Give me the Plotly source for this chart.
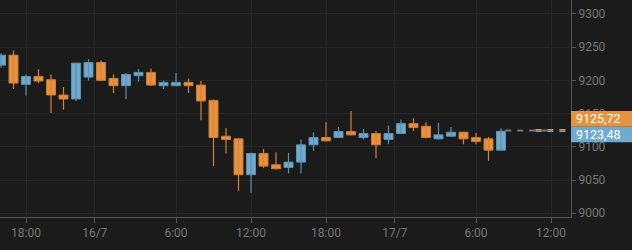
import pandas as pd
import plotly.graph_objects as go

times = pd.date_range("2020-07-15 16:00", periods=41, freq="h")
opens = [9223, 9238, 9194, 9206, 9201, 9178, 9172, 9205, 9227, 9203,
         9192, 9207, 9212, 9192, 9192, 9197, 9193, 9170, 9116, 9112,
         9058, 9090, 9073, 9069, 9077, 9103, 9114, 9114, 9123, 9114,
         9120, 9111, 9120, 9135, 9131, 9112, 9116, 9122, 9114, 9112, 9095]
highs = [9241, 9245, 9209, 9217, 9209, 9190, 9226, 9232, 9230, 9209,
         9211, 9217, 9218, 9200, 9211, 9203, 9199, 9171, 9128, 9113,
         9091, 9097, 9092, 9091, 9111, 9122, 9137, 9130, 9154, 9127,
         9124, 9132, 9141, 9143, 9137, 9136, 9130, 9122, 9121, 9115, 9128]
lows = [9219, 9187, 9177, 9196, 9151, 9156, 9169, 9200, 9200, 9181,
        9172, 9198, 9192, 9187, 9191, 9181, 9140, 9071, 9090, 9034,
        9031, 9068, 9066, 9060, 9060, 9094, 9108, 9113, 9117, 9111,
        9083, 9104, 9120, 9124, 9113, 9111, 9115, 9104, 9104, 9079, 9095]
closes = [9238, 9196, 9206, 9199, 9178, 9172, 9226, 9227, 9200, 9192,
          9209, 9212, 9193, 9197, 9197, 9192, 9169, 9114, 9111, 9058,
          9090, 9071, 9067, 9077, 9103, 9114, 9109, 9123, 9118, 9120,
          9103, 9120, 9135, 9129, 9114, 9118, 9122, 9112, 9108, 9095, 9123.48]

price_a = 9125.72
price_b = 9123.48
label_a = "9125,72"
label_b = "9123,48"

tick_vals = ["2020-07-15 18:00", "2020-07-15 23:30", "2020-07-16 06:00", "2020-07-16 12:00",
             "2020-07-16 18:00", "2020-07-16 23:30", "2020-07-17 06:00", "2020-07-17 12:00"]
tick_text = ["18:00", "16/7", "6:00", "12:00", "18:00", "17/7", "6:00", "12:00"]
y_ticks = [9000, 9050, 9100, 9150, 9200, 9250, 9300]

ORANGE = "#e8913f"
BLUE = "#6faacf"
ORANGE_EDGE = "#c97a33"
BLUE_EDGE = "#5b90b0"
BG = "#1b1b1b"
GRID = "#262626"
AXIS = "#555555"
TXT = "#777777"

fig = go.Figure()

# wicks and bodies, split by direction
for up in (True, False):
    idx = [i for i in range(len(times)) if (closes[i] >= opens[i]) == up]
    fill = BLUE if up else ORANGE
    edge = BLUE_EDGE if up else ORANGE_EDGE
    wx, wy = [], []
    for i in idx:
        wx += [times[i], times[i], None]
        wy += [lows[i], highs[i], None]
    fig.add_trace(go.Scatter(x=wx, y=wy, mode="lines",
                             line=dict(color=edge if up else "#d4843a", width=1.2),
                             showlegend=False, hoverinfo="skip"))
    fig.add_trace(go.Bar(
        x=[times[i] for i in idx],
        base=[min(opens[i], closes[i]) for i in idx],
        y=[max(abs(closes[i] - opens[i]), 1.5) for i in idx],
        width=0.72 * 3600 * 1000,
        marker=dict(color=fill, line=dict(color=edge, width=1)),
        showlegend=False, hoverinfo="skip"))

# price lines after the last candle
fig.add_trace(go.Scatter(
    x=["2020-07-17 08:20", "2020-07-17 11:40"], y=[(price_a + price_b) / 2] * 2,
    mode="lines", line=dict(color="#777777", width=2, dash="6px,6px"),
    showlegend=False, hoverinfo="skip"))
fig.add_trace(go.Scatter(
    x=["2020-07-17 10:45", "2020-07-17 13:40"], y=[price_a] * 2,
    mode="lines", line=dict(color=ORANGE, width=1.5, dash="6px,6px"),
    showlegend=False, hoverinfo="skip"))
fig.add_trace(go.Scatter(
    x=["2020-07-17 10:45", "2020-07-17 13:40"], y=[price_b] * 2,
    mode="lines", line=dict(color=BLUE, width=1.5, dash="6px,6px"),
    showlegend=False, hoverinfo="skip"))

W, H = 632, 250
ml, mr, mt, mb = 0, 61, 0, 33
pw = W - ml - mr

fig.update_layout(
    width=W, height=H,
    margin=dict(l=ml, r=mr, t=mt, b=mb),
    paper_bgcolor=BG, plot_bgcolor=BG,
    font=dict(family="Roboto", size=12, color=TXT),
    showlegend=False,
    barmode="overlay",
    xaxis=dict(
        type="date", range=["2020-07-15 15:55:12", "2020-07-17 13:36"],
        tickvals=tick_vals, ticktext=tick_text,
        showgrid=True, gridcolor=GRID, gridwidth=1,
        showline=True, linecolor=AXIS, linewidth=1,
        ticks="outside", ticklen=5, tickcolor=AXIS,
        tickfont=dict(size=12, color=TXT), zeroline=False,
    ),
    yaxis=dict(
        side="right", range=[8994.4, 9321],
        tickvals=y_ticks, showgrid=True, gridcolor=GRID, gridwidth=1,
        showline=True, linecolor=AXIS, linewidth=1,
        ticks="outside", ticklen=4, tickcolor=AXIS,
        tickfont=dict(size=12, color=TXT), zeroline=False,
    ),
)

# last-value label boxes on the price scale
box_x1 = 1 + mr / pw
fig.add_shape(type="rect", xref="paper", yref="y", x0=1, x1=box_x1,
              y0=9130.3, y1=9154.0, fillcolor=ORANGE, line=dict(width=0), layer="above")
fig.add_shape(type="rect", xref="paper", yref="y", x0=1, x1=box_x1,
              y0=9106.9, y1=9130.3, fillcolor=BLUE, line=dict(width=0), layer="above")
fig.add_annotation(x=1 + 3 / pw, xref="paper", y=9142.2, yref="y", text=label_a,
                   showarrow=False, xanchor="left", yanchor="middle",
                   font=dict(family="Roboto", size=12.5, color="white"))
fig.add_annotation(x=1 + 3 / pw, xref="paper", y=9118.6, yref="y", text=label_b,
                   showarrow=False, xanchor="left", yanchor="middle",
                   font=dict(family="Roboto", size=12.5, color="white"))

fig.write_html("out.html")
